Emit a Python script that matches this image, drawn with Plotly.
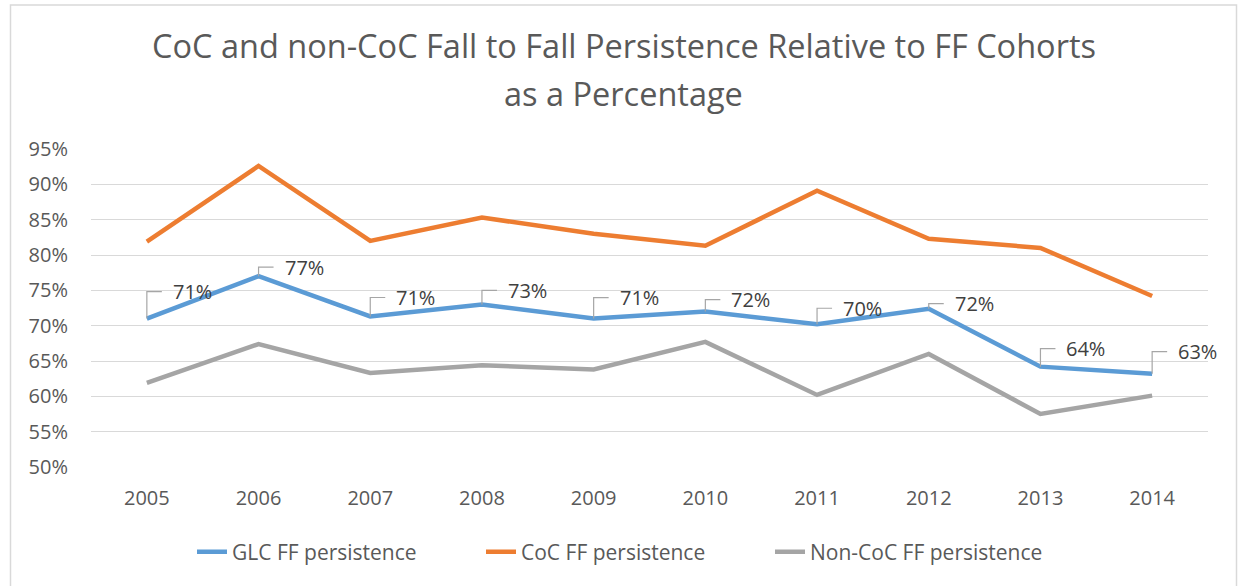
import plotly.graph_objects as go

years = [2005, 2006, 2007, 2008, 2009, 2010, 2011, 2012, 2013, 2014]
glc = [71.0, 77.0, 71.3, 73.0, 71.0, 72.0, 70.2, 72.4, 64.2, 63.2]
coc = [81.9, 92.6, 82.0, 85.3, 83.0, 81.3, 89.1, 82.3, 81.0, 74.2]
non_coc = [61.9, 67.4, 63.3, 64.4, 63.8, 67.7, 60.2, 66.0, 57.5, 60.1]
y_ticks = [50, 55, 60, 65, 70, 75, 80, 85, 90, 95]

# how high (px) each GLC label sits above its point, like the Excel layout
label_lift = [27, 9, 19, 14, 21, 12, 16, 5, 18, 22]

FONT = "Open Sans"
TXT = "#595959"
GRID = "#d9d9d9"

fig = go.Figure()
fig.add_trace(go.Scatter(x=years, y=glc, name="GLC FF persistence", mode="lines",
                         line=dict(color="#5B9BD5", width=4.5)))
fig.add_trace(go.Scatter(x=years, y=coc, name="CoC FF persistence", mode="lines",
                         line=dict(color="#ED7D31", width=4.5)))
fig.add_trace(go.Scatter(x=years, y=non_coc, name="Non-CoC FF persistence", mode="lines",
                         line=dict(color="#A5A5A5", width=4.5)))

# data labels with elbow leader lines
for yr, v, lift in zip(years, glc, label_lift):
    fig.add_annotation(x=yr, y=v, text=f"{round(v)}%", showarrow=False,
                       xanchor="left", yanchor="middle", xshift=24, yshift=lift,
                       font=dict(family=FONT, size=20, color="#404040"))
    fig.add_shape(type="path", xref="x", yref="y", xsizemode="pixel", ysizemode="pixel",
                  xanchor=yr, yanchor=v, path=f"M 0,0 V {lift} H 15",
                  line=dict(color="#A6A6A6", width=1.2))

# title (two lines, Excel-like spacing)
plot_top, plot_h = 149, 318
for txt, ypx in [("CoC and non-CoC Fall to Fall Persistence Relative to FF Cohorts", 46),
                 ("as a Percentage", 93)]:
    fig.add_annotation(xref="paper", yref="paper", x=0.477, y=1 + (plot_top - ypx) / plot_h,
                       text=txt, showarrow=False, xanchor="center", yanchor="middle",
                       font=dict(family=FONT, size=32.5, color=TXT))

# chart border
fig.add_shape(type="rect", xref="paper", yref="paper", layer="below",
              x0=(10.5 - 91) / 1117, x1=(1236.5 - 91) / 1117,
              y0=1 + (plot_top - 600) / plot_h, y1=1 + (plot_top - 5) / plot_h,
              line=dict(color=GRID, width=1.5))

fig.update_layout(
    width=1238, height=586,
    margin=dict(l=91, r=30, t=149, b=119),
    paper_bgcolor="white", plot_bgcolor="white",
    showlegend=True,
    legend=dict(orientation="h", x=(192 - 91) / 1117, xanchor="left",
                y=1 + (plot_top - 552) / plot_h, yanchor="middle",
                entrywidth=244, entrywidthmode="pixels",
                font=dict(family=FONT, size=21, color=TXT)),
    xaxis=dict(range=[2004.5, 2014.5], tickvals=years, showgrid=False,
               showline=False, zeroline=False, ticks="", ticklabelstandoff=17,
               tickfont=dict(family=FONT, size=20, color=TXT)),
    yaxis=dict(range=[50, 95], tickvals=y_ticks, ticktext=[f"{t}%" for t in y_ticks],
               showgrid=True, gridcolor=GRID, gridwidth=1.3, zeroline=False,
               showline=False, ticks="", ticklabelstandoff=22,
               tickfont=dict(family=FONT, size=20, color=TXT)),
)

fig.write_html("out.html", config={"displayModeBar": False},
               post_script="document.body.style.margin='0';document.body.style.overflow='hidden';")
